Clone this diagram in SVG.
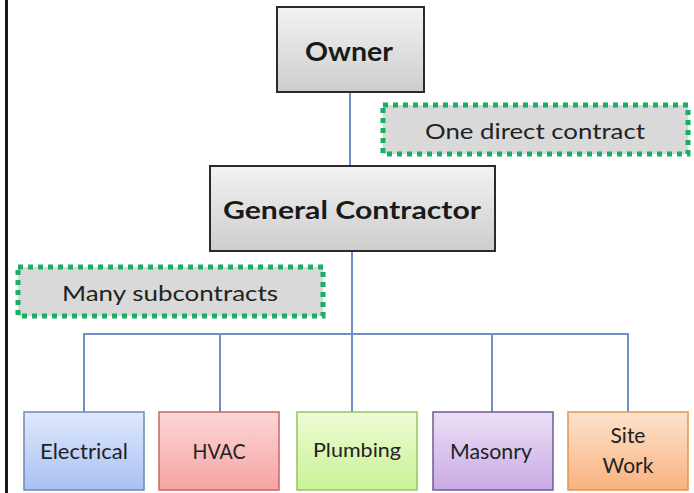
<svg xmlns="http://www.w3.org/2000/svg" width="694" height="493" viewBox="0 0 694 493">
  <style>
    .lbl { font-family: "Lato", "Liberation Sans", sans-serif; fill: #222; text-anchor: middle; }
    .head { font-family: "Lato", "Liberation Sans", sans-serif; font-weight: 700; fill: #1a1a1a; text-anchor: middle; }
    .note { fill: #d9d9d9; stroke: #16b060; stroke-width: 5; stroke-dasharray: 5 5; }
    .wire { fill: none; stroke: #6f8fc8; stroke-width: 2; }
    .top { stroke: #2b2b2b; stroke-width: 2; }
  </style>
  <defs>
    <linearGradient id="gGray" x1="0" y1="0" x2="0" y2="1">
      <stop offset="0" stop-color="#f3f3f3"/>
      <stop offset="1" stop-color="#cdcdcd"/>
    </linearGradient>
    <linearGradient id="gBlue" x1="0" y1="0" x2="0" y2="1">
      <stop offset="0" stop-color="#dfe8fc"/>
      <stop offset="1" stop-color="#a8c2f4"/>
    </linearGradient>
    <linearGradient id="gRed" x1="0" y1="0" x2="0" y2="1">
      <stop offset="0" stop-color="#fdd6d6"/>
      <stop offset="1" stop-color="#f7a3a3"/>
    </linearGradient>
    <linearGradient id="gGreen" x1="0" y1="0" x2="0" y2="1">
      <stop offset="0" stop-color="#eefcd6"/>
      <stop offset="1" stop-color="#c9f294"/>
    </linearGradient>
    <linearGradient id="gPurple" x1="0" y1="0" x2="0" y2="1">
      <stop offset="0" stop-color="#ecdff6"/>
      <stop offset="1" stop-color="#c9abe6"/>
    </linearGradient>
    <linearGradient id="gOrange" x1="0" y1="0" x2="0" y2="1">
      <stop offset="0" stop-color="#fde3cd"/>
      <stop offset="1" stop-color="#f9b27f"/>
    </linearGradient>
  </defs>

  <rect width="694" height="493" fill="#ffffff"/>
  <!-- left frame edge -->
  <line x1="6.5" y1="0" x2="6.5" y2="493" stroke="#1a1a1a" stroke-width="3"/>

  <!-- connectors -->
  <g id="connectors" class="wire">
    <line x1="350" y1="93" x2="350" y2="166"/>
    <line x1="352" y1="252" x2="352" y2="412"/>
    <polyline points="84,412 84,334 628,334 628,412"/>
    <line x1="220" y1="334" x2="220" y2="412"/>
    <line x1="492" y1="334" x2="492" y2="412"/>
  </g>

  <g id="owner">
    <rect x="277" y="7" width="147" height="85" fill="url(#gGray)" class="top"/>
    <text x="349" y="61" class="head" font-size="26" textLength="88" lengthAdjust="spacingAndGlyphs">Owner</text>
  </g>

  <g id="note-direct">
    <rect x="383" y="105" width="305" height="49" class="note"/>
    <text x="535" y="139" class="lbl" font-size="21" textLength="220" lengthAdjust="spacingAndGlyphs">One direct contract</text>
  </g>

  <g id="general-contractor">
    <rect x="210" y="166" width="285" height="85" fill="url(#gGray)" class="top"/>
    <text x="352" y="219" class="head" font-size="24" textLength="258" lengthAdjust="spacingAndGlyphs">General Contractor</text>
  </g>

  <g id="note-subs">
    <rect x="18" y="267" width="305" height="49" class="note"/>
    <text x="170" y="301" class="lbl" font-size="21" textLength="216" lengthAdjust="spacingAndGlyphs">Many subcontracts</text>
  </g>

  <g id="electrical">
    <rect x="24" y="412" width="120" height="78" fill="url(#gBlue)" stroke="#7088b4" stroke-width="1.5"/>
    <text x="84" y="459" class="lbl" font-size="21" fill="#2a3350" textLength="88" lengthAdjust="spacingAndGlyphs">Electrical</text>
  </g>

  <g id="hvac">
    <rect x="159" y="412" width="120" height="78" fill="url(#gRed)" stroke="#c96666" stroke-width="1.5"/>
    <text x="219" y="459" class="lbl" font-size="21" textLength="53" lengthAdjust="spacingAndGlyphs">HVAC</text>
  </g>

  <g id="plumbing">
    <rect x="297" y="412" width="120" height="78" fill="url(#gGreen)" stroke="#94c460" stroke-width="1.5"/>
    <text x="357" y="457" class="lbl" font-size="20" textLength="88" lengthAdjust="spacingAndGlyphs">Plumbing</text>
  </g>

  <g id="masonry">
    <rect x="433" y="412" width="120" height="78" fill="url(#gPurple)" stroke="#6c5e8e" stroke-width="1.5"/>
    <text x="491" y="459" class="lbl" font-size="21" textLength="82" lengthAdjust="spacingAndGlyphs">Masonry</text>
  </g>

  <g id="site-work">
    <rect x="568" y="412" width="120" height="78" fill="url(#gOrange)" stroke="#e39450" stroke-width="1.5"/>
    <text x="628" y="443" class="lbl" font-size="21">Site</text>
    <text x="628" y="473" class="lbl" font-size="21">Work</text>
  </g>
</svg>
